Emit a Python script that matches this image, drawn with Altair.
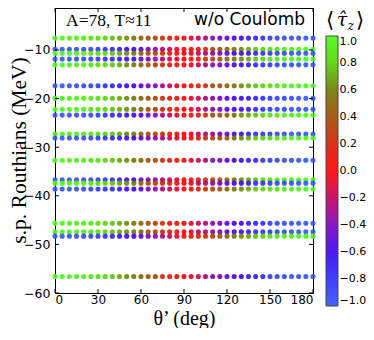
import altair as alt
import pandas as pd

# angles (deg)
theta = [0, 5, 10, 15, 20, 25, 30, 35, 40, 45, 50, 55, 60, 65, 70, 75, 80, 85, 90,
         95, 100, 105, 110, 115, 120, 125, 130, 135, 140, 145, 150, 155, 160, 165, 170, 175, 180]

# level energies (MeV) and colour direction (GB: +1 -> -1, BG: -1 -> +1)
level_E = [-7.55, -9.86, -10.67, -11.84, -13.06,
           -17.35, -19.94, -22.2, -23.4,
           -27.3, -28.1, -32.7,
           -36.7, -37.4, -38.6,
           -45.65, -47.4, -48.3, -56.6]
level_dir = ["GB", "BG", "GB", "BG", "GB",
             "BG", "GB", "GB", "BG",
             "GB", "BG", "GB",
             "BG", "GB", "BG",
             "GB", "GB", "BG", "GB"]

tz_gb = [1.00, 1.00, 0.98, 0.96, 0.94, 0.91, 0.87, 0.82, 0.77, 0.71, 0.64, 0.57, 0.50,
         0.42, 0.34, 0.26, 0.17, 0.09, 0.00, -0.09, -0.17, -0.26, -0.34, -0.42, -0.50,
         -0.57, -0.64, -0.71, -0.77, -0.82, -0.87, -0.91, -0.94, -0.96, -0.98, -1.00, -1.00]
tz_bg = [-1.00, -1.00, -0.98, -0.96, -0.94, -0.91, -0.87, -0.82, -0.77, -0.71, -0.64, -0.57, -0.50,
         -0.42, -0.34, -0.26, -0.17, -0.09, 0.00, 0.09, 0.17, 0.26, 0.34, 0.42, 0.50,
         0.57, 0.64, 0.71, 0.77, 0.82, 0.87, 0.91, 0.94, 0.96, 0.98, 1.00, 1.00]

cmap_stops = [-1.0, -0.8, -0.6, -0.4, -0.2, 0.0, 0.2, 0.4, 0.6, 0.8, 1.0]
cmap_colors = ["#3355ff", "#2a2aff", "#3a00f0", "#7a00c0", "#c0005a", "#ff0000",
               "#d81c00", "#a04a00", "#6e7a00", "#58d000", "#44ff10"]

x_ticks = [0, 30, 60, 90, 120, 150, 180]
y_ticks = [-60, -50, -40, -30, -20, -10]

rows = []
for E, d in zip(level_E, level_dir):
    prof = tz_gb if d == "GB" else tz_bg
    for t, tz in zip(theta, prof):
        rows.append({"theta": t, "E": E, "tz": tz})
df = pd.DataFrame(rows)

W, H = 258, 285
xs = alt.Scale(domain=[0, 180], nice=False, zero=False)
ys = alt.Scale(domain=[-60, -1.36], nice=False, zero=False)

points = alt.Chart(df).mark_circle(size=26, opacity=0.9).encode(
    x=alt.X("theta:Q", scale=xs,
            axis=alt.Axis(values=x_ticks, title="θ’ (deg)", ticks=False, domain=False,
                          grid=False, labelPadding=1.5, labelFontSize=12, labelFont="DejaVu Sans",
                          labelColor="black", titleFont="Liberation Serif", titleFontSize=20,
                          titleFontWeight="normal", titleColor="black", titleX=W / 2, titleY=31.5,
                          titleBaseline="alphabetic")),
    y=alt.Y("E:Q", scale=ys,
            axis=alt.Axis(values=y_ticks, title="s.p. Routhians (MeV)", ticks=False, domain=False,
                          grid=False, labelPadding=5, labelFontSize=12.5, labelFont="DejaVu Sans",
                          labelColor="black", titleFont="Liberation Serif", titleFontSize=21.5,
                          titleFontWeight="normal", titleColor="black", titleX=-30, titleY=142,
                          titleAngle=270, titleAlign="center", titleBaseline="alphabetic")),
    color=alt.Color("tz:Q",
                    scale=alt.Scale(domain=cmap_stops, range=cmap_colors, interpolate="rgb"),
                    legend=alt.Legend(orient="none", legendX=271, legendY=28, title=None,
                                      gradientLength=270, gradientThickness=12,
                                      gradientStrokeColor="#333", gradientStrokeWidth=1,
                                      values=cmap_stops, format=".1f", labelOverlap=False,
                                      labelExpr="datum.value >= 0 ? '\u2007\u2009' + datum.label : datum.label",
                                      labelFontSize=11, labelFont="DejaVu Sans", labelColor="black",
                                      labelAlign="left", labelOffset=1.5, padding=0)),
)

xt = pd.DataFrame({"v": x_ticks})
yt = pd.DataFrame({"v": y_ticks})
tick_bot = alt.Chart(xt).mark_rule(color="black", strokeWidth=1).encode(
    x=alt.X("v:Q", scale=xs), y=alt.value(H), y2=alt.value(H - 4))
tick_top = alt.Chart(xt).mark_rule(color="black", strokeWidth=1).encode(
    x=alt.X("v:Q", scale=xs), y=alt.value(0), y2=alt.value(4))
tick_left = alt.Chart(yt).mark_rule(color="black", strokeWidth=1).encode(
    y=alt.Y("v:Q", scale=ys), x=alt.value(0), x2=alt.value(4))
tick_right = alt.Chart(yt).mark_rule(color="black", strokeWidth=1).encode(
    y=alt.Y("v:Q", scale=ys), x=alt.value(W), x2=alt.value(W - 4))

def label(txt, x, y, size, font, align="left", baseline="alphabetic", style="normal"):
    return alt.Chart(pd.DataFrame({"t": [txt]})).mark_text(
        fontSize=size, font=font, align=align, baseline=baseline, fontStyle=style, color="black"
    ).encode(x=alt.value(x), y=alt.value(y), text="t:N")

txt1 = label("A=78, T≈11", 11, 18, 17.5, "Liberation Serif")
txt2 = label("w/o Coulomb", 250, 17, 17, "DejaVu Sans", align="right")
cb1 = label("⟨", 275, 13, 21, "DejaVu Serif", align="center", baseline="middle")
cb2 = label("τ̂", 287, 18, 19, "DejaVu Serif", align="center", style="italic")
cb3 = label("z", 296, 22, 12, "DejaVu Serif", align="center", style="italic")
cb4 = label("⟩", 305, 13, 21, "DejaVu Serif", align="center", baseline="middle")

chart = alt.layer(points, tick_bot, tick_top, tick_left, tick_right,
                  txt1, txt2, cb1, cb2, cb3, cb4).properties(
    width=W, height=H,
    autosize=alt.AutoSizeParams(type="none"),
    padding={"left": 47, "top": 0, "right": 53, "bottom": 35},
).configure_view(stroke="black", strokeWidth=1)

chart.save("out.html", embed_options={"renderer": "svg", "actions": False})
